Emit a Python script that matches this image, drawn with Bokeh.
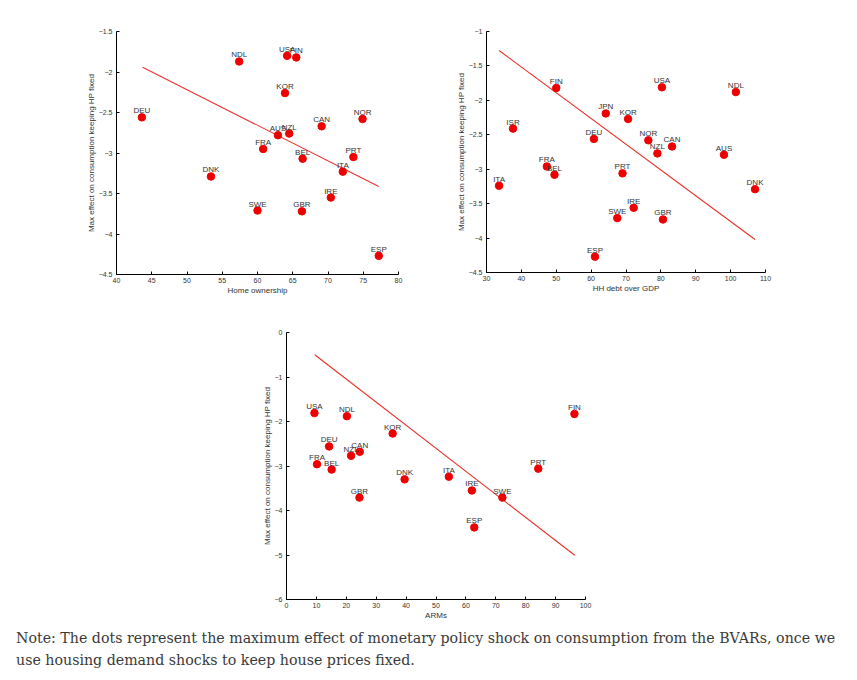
from bokeh.plotting import figure
from bokeh.layouts import column, row
from bokeh.models import ColumnDataSource, Div, Range1d, FixedTicker
from bokeh.embed import file_html
from bokeh.resources import INLINE
from bokeh.core.properties import value

# Panel 1: Home ownership
c1 = ["NDL", "USA", "FIN", "KOR", "DEU", "NOR", "CAN", "AUS", "NZL", "FRA", "BEL", "PRT", "ITA", "DNK", "IRE", "SWE", "GBR", "ESP"]
x1 = [57.4, 64.2, 65.5, 63.9, 43.6, 74.9, 69.1, 62.9, 64.5, 60.8, 66.4, 73.6, 72.1, 53.4, 70.4, 60.0, 66.3, 77.2]
y1 = [-1.87, -1.80, -1.82, -2.26, -2.56, -2.58, -2.67, -2.78, -2.76, -2.95, -3.07, -3.05, -3.23, -3.29, -3.55, -3.71, -3.72, -4.27]
fit1_x = [43.7, 77.2]
fit1_y = [-1.94, -3.415]

# Panel 2: HH debt over GDP
c2 = ["FIN", "USA", "NDL", "JPN", "KOR", "ISR", "DEU", "NOR", "CAN", "NZL", "AUS", "FRA", "BEL", "PRT", "ITA", "DNK", "IRE", "SWE", "GBR", "ESP"]
x2 = [50.0, 80.3, 101.5, 64.2, 70.6, 37.6, 60.8, 76.4, 83.2, 79.0, 98.1, 47.3, 49.5, 69.0, 33.6, 107.0, 72.2, 67.5, 80.6, 61.1]
y2 = [-1.82, -1.81, -1.88, -2.19, -2.27, -2.41, -2.56, -2.58, -2.67, -2.77, -2.79, -2.96, -3.08, -3.06, -3.24, -3.29, -3.56, -3.71, -3.73, -4.27]
fit2_x = [33.6, 107.0]
fit2_y = [-1.276, -4.021]

# Panel 3: ARMs
c3 = ["USA", "NDL", "FIN", "KOR", "DEU", "CAN", "NZL", "FRA", "BEL", "PRT", "ITA", "DNK", "IRE", "SWE", "GBR", "ESP"]
x3 = [9.35, 20.2, 96.3, 35.5, 14.25, 24.5, 21.6, 10.2, 15.1, 84.2, 54.3, 39.5, 62.0, 72.2, 24.4, 62.8]
y3 = [-1.81, -1.88, -1.83, -2.27, -2.56, -2.68, -2.77, -2.96, -3.08, -3.06, -3.24, -3.30, -3.55, -3.71, -3.71, -4.38]
fit3_x = [9.45, 96.4]
fit3_y = [-0.50, -5.006]

ylabel = "Max effect on consumption keeping HP fixed"
note = ("Note: The dots represent the maximum effect of monetary policy shock on consumption from the BVARs, once we "
        "use housing demand shocks to keep house prices fixed.")

FONT = "Liberation Sans"


def panel(cs, xs, ys, fx, fy, xr, yr, xt, yt, xlabel, fw, fh, bl, bt, br, bb):
    p = figure(frame_width=fw, frame_height=fh, output_backend="svg", toolbar_location=None,
               x_range=Range1d(*xr), y_range=Range1d(*yr),
               min_border_left=bl, min_border_top=bt, min_border_right=br, min_border_bottom=bb)
    p.outline_line_color = None
    p.xgrid.visible = False
    p.ygrid.visible = False
    p.background_fill_color = "white"
    p.border_fill_color = "white"
    src = ColumnDataSource(dict(x=xs, y=ys, c=cs))
    p.line(fx, fy, line_color="#e8302a", line_width=1.1)
    p.scatter("x", "y", source=src, size=7.5, fill_color="#ee0000", line_color="#ee0000")
    p.text("x", "y", text="c", source=src, text_align="center", text_baseline="bottom",
           y_offset=-2, text_font_size="8px", text_color="#333333",
           text_font=value(FONT))
    for ax in (p.xaxis[0], p.yaxis[0]):
        ax.axis_line_color = "black"
        ax.major_tick_in = 3
        ax.major_tick_out = 0
        ax.minor_tick_line_color = None
        ax.major_tick_line_color = "black"
        ax.major_label_text_font = FONT
        ax.major_label_text_font_size = "7px"
        ax.major_label_text_color = "#333333"
        ax.axis_label_text_font = FONT
        ax.axis_label_text_font_size = "8px"
        ax.axis_label_text_font_style = "normal"
        ax.axis_label_text_color = "#333333"
    p.xaxis.ticker = FixedTicker(ticks=xt)
    p.yaxis.ticker = FixedTicker(ticks=yt)
    p.xaxis.axis_label = xlabel
    p.yaxis.axis_label = ylabel
    p.xaxis.major_label_standoff = 3
    p.xaxis.axis_label_standoff = 0
    p.yaxis.major_label_standoff = 4
    p.yaxis.axis_label_standoff = 0
    return p


p1 = panel(c1, x1, y1, fit1_x, fit1_y, (40, 80), (-4.5, -1.5),
           [40, 45, 50, 55, 60, 65, 70, 75, 80], [-4.5, -4, -3.5, -3, -2.5, -2, -1.5],
           "Home ownership", 282, 243, 116, 29, 20, 35)
p2 = panel(c2, x2, y2, fit2_x, fit2_y, (30, 110), (-4.5, -1),
           [30, 40, 50, 60, 70, 80, 90, 100, 110], [-4.5, -4, -3.5, -3, -2.5, -2, -1.5, -1],
           "HH debt over GDP", 279, 241, 68, 31, 20, 35)
p3 = panel(c3, x3, y3, fit3_x, fit3_y, (0, 100), (-6, 0),
           list(range(0, 101, 10)), [-6, -5, -4, -3, -2, -1, 0],
           "ARMs", 299, 267, 286, 25, 20, 18)

div = Div(text=note, width=822,
          styles={"font-family": "DejaVu Serif", "font-size": "14.2px", "color": "#3a3a3a",
                  "line-height": "22px", "margin-left": "16px"})

layout = column(row(p1, p2), p3, div)
open("out.html", "w").write(file_html(layout, INLINE))
